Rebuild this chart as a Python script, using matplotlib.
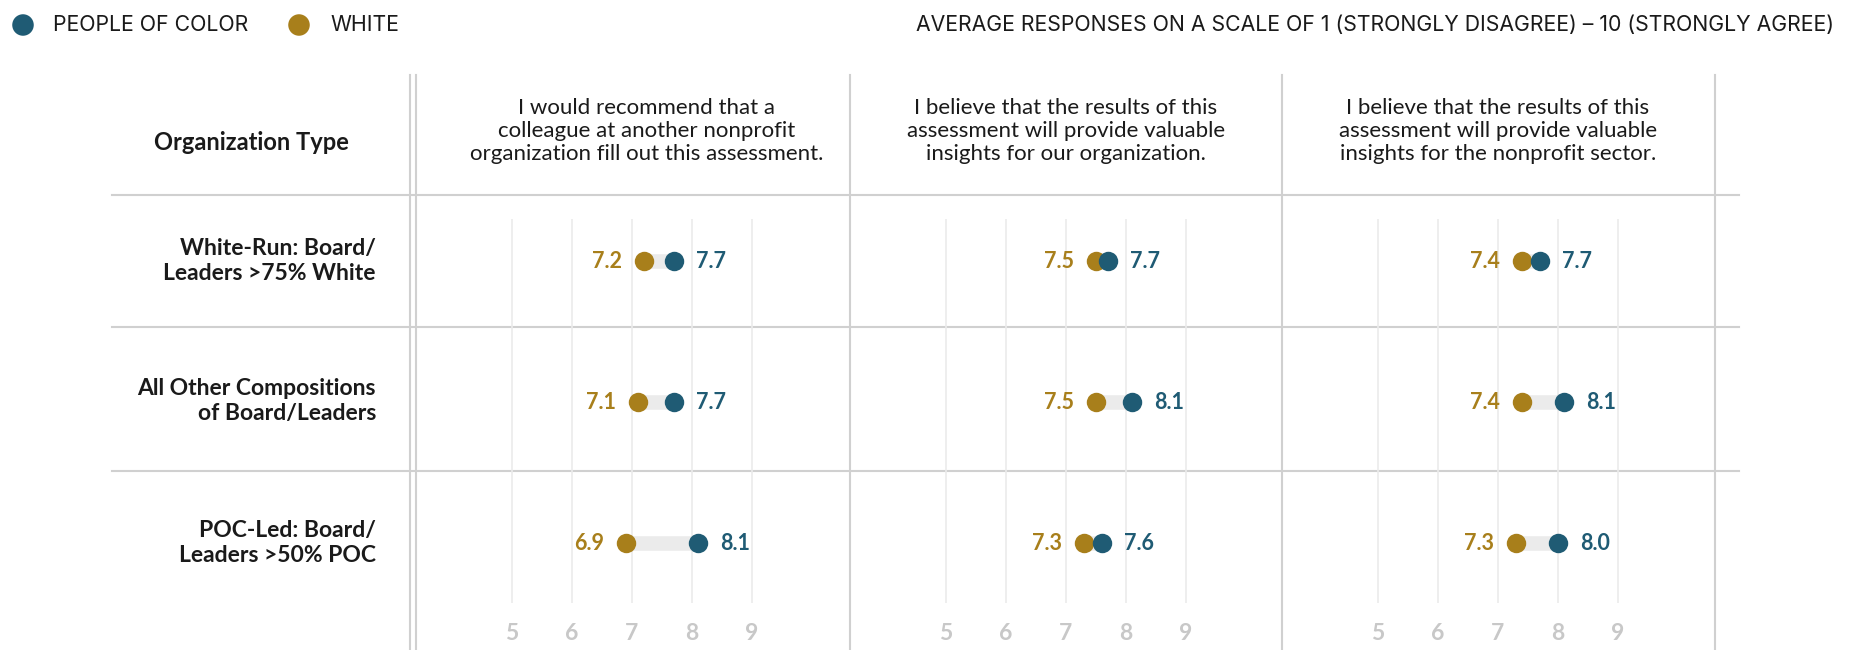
"""Dumbbell chart: assessment responses by organization type"""
import numpy as np
import matplotlib
matplotlib.use("Agg")
import matplotlib.pyplot as plt

# -----------------------------------------------------------------------------
# Data

org_types = ["White-Run: Board/\nLeaders >75% White",
             "All Other Compositions\nof Board/Leaders",
             "POC-Led: Board/\nLeaders >50% POC"]

questions = ["I would recommend that a\ncolleague at another nonprofit\n"
             "organization fill out this assessment.",
             "I believe that the results of this\nassessment will provide valuable\n"
             "insights for our organization.",
             "I believe that the results of this\nassessment will provide valuable\n"
             "insights for the nonprofit sector."]

# one list per question, one value per organization type
poc_values = [[7.7, 7.7, 8.1],
              [7.7, 8.1, 7.6],
              [7.7, 8.1, 8.0]]
white_values = [[7.2, 7.1, 6.9],
                [7.5, 7.5, 7.3],
                [7.4, 7.4, 7.3]]

tick_values = [5, 6, 7, 8, 9]

# -----------------------------------------------------------------------------
# Style

POC_COLOR = "#1f5b74"
WHITE_COLOR = "#a87f1b"
TABLE_LINE = "#d0d0d0"
GRID_LINE = "#ebebeb"
TICK_COLOR = "#c8c8c8"
TEXT_COLOR = "#1a1a1a"

plt.rcParams["font.family"] = ["Lato", "DejaVu Sans"]
TOP_FONT = ["Inter", "DejaVu Sans"]

W, H = 1856, 650
fig = plt.figure(figsize=(W / 100, H / 100), dpi=100)

# overlay axes in pixel units for the table frame and labels
frame = fig.add_axes([0, 0, 1, 1])
frame.set_xlim(0, W)
frame.set_ylim(H, 0)
frame.axis("off")

# legend + scale note
frame.scatter([23, 299], [25, 25], s=240, color=[POC_COLOR, WHITE_COLOR],
              edgecolor="none")
frame.text(53, 25, "PEOPLE OF COLOR", fontsize=15.3, color=TEXT_COLOR,
           va="center", ha="left", family=TOP_FONT)
frame.text(330, 25, "WHITE", fontsize=15.3, color=TEXT_COLOR,
           va="center", ha="left", family=TOP_FONT)
frame.text(1834, 25, "AVERAGE RESPONSES ON A SCALE OF 1 (STRONGLY DISAGREE) "
           "\u2013 10 (STRONGLY AGREE)", fontsize=15.3, color=TEXT_COLOR,
           va="center", ha="right", family=TOP_FONT)

# table frame
panel_edges = [416, 850, 1282, 1715]
for x in [410] + panel_edges:
    frame.plot([x, x], [75, H], color=TABLE_LINE, lw=1.5)
for y in [195, 327, 471]:
    frame.plot([112, 1739], [y, y], color=TABLE_LINE, lw=1.5)

frame.text(251, 142, "Organization Type", fontsize=17, fontweight="bold",
           color=TEXT_COLOR, ha="center", va="center")

row_px = [261, 401, 543]
for label, y in zip(org_types, row_px):
    frame.text(376, y, label, fontsize=16.5, fontweight="bold",
               color=TEXT_COLOR, ha="right", va="center", linespacing=1.2)

header_x = [647, 1066, 1498]
for q, x in zip(questions, header_x):
    frame.text(x, 131, q, fontsize=16, color=TEXT_COLOR,
               ha="center", va="center", linespacing=1.2)

# -----------------------------------------------------------------------------
# Panels

PX_PER_UNIT = 60
TOP, BOTTOM = 195, H
row_pos = np.arange(len(org_types))


def px_to_row(y_px):
    return (y_px - 261) / 141


for k in range(len(questions)):
    x0, x1 = panel_edges[k], panel_edges[k + 1]
    ax = fig.add_axes([x0 / W, 1 - BOTTOM / H, (x1 - x0) / W,
                       (BOTTOM - TOP) / H])
    ax.axis("off")
    lo = 5 - 96 / PX_PER_UNIT
    ax.set_xlim(lo, lo + (x1 - x0) / PX_PER_UNIT)
    ax.set_ylim(px_to_row(BOTTOM), px_to_row(TOP))

    ax.vlines(tick_values, px_to_row(219), px_to_row(603), color=GRID_LINE,
              lw=1.2, zorder=0)
    for t in tick_values:
        ax.text(t, px_to_row(633), str(t), fontsize=16.5, fontweight="bold",
                color=TICK_COLOR, ha="center", va="center")

    poc = np.array(poc_values[k])
    wht = np.array(white_values[k])
    ax.hlines(row_pos, wht, poc, color=GRID_LINE, lw=10.5, zorder=1)
    ax.plot(wht, row_pos, "o", ms=14, color=WHITE_COLOR, mec="none", zorder=2)
    ax.plot(poc, row_pos, "o", ms=14, color=POC_COLOR, mec="none", zorder=3)

    for i in row_pos:
        lo_v, hi_v = sorted([(wht[i], WHITE_COLOR), (poc[i], POC_COLOR)])
        ax.annotate(f"{lo_v[0]:.1f}", (lo_v[0], i), xytext=(-16, 0),
                    textcoords="offset points", ha="right", va="center",
                    fontsize=15.5, fontweight="bold", color=lo_v[1])
        ax.annotate(f"{hi_v[0]:.1f}", (hi_v[0], i), xytext=(16, 0),
                    textcoords="offset points", ha="left", va="center",
                    fontsize=15.5, fontweight="bold", color=hi_v[1])

fig.savefig("out.png", dpi=100)
